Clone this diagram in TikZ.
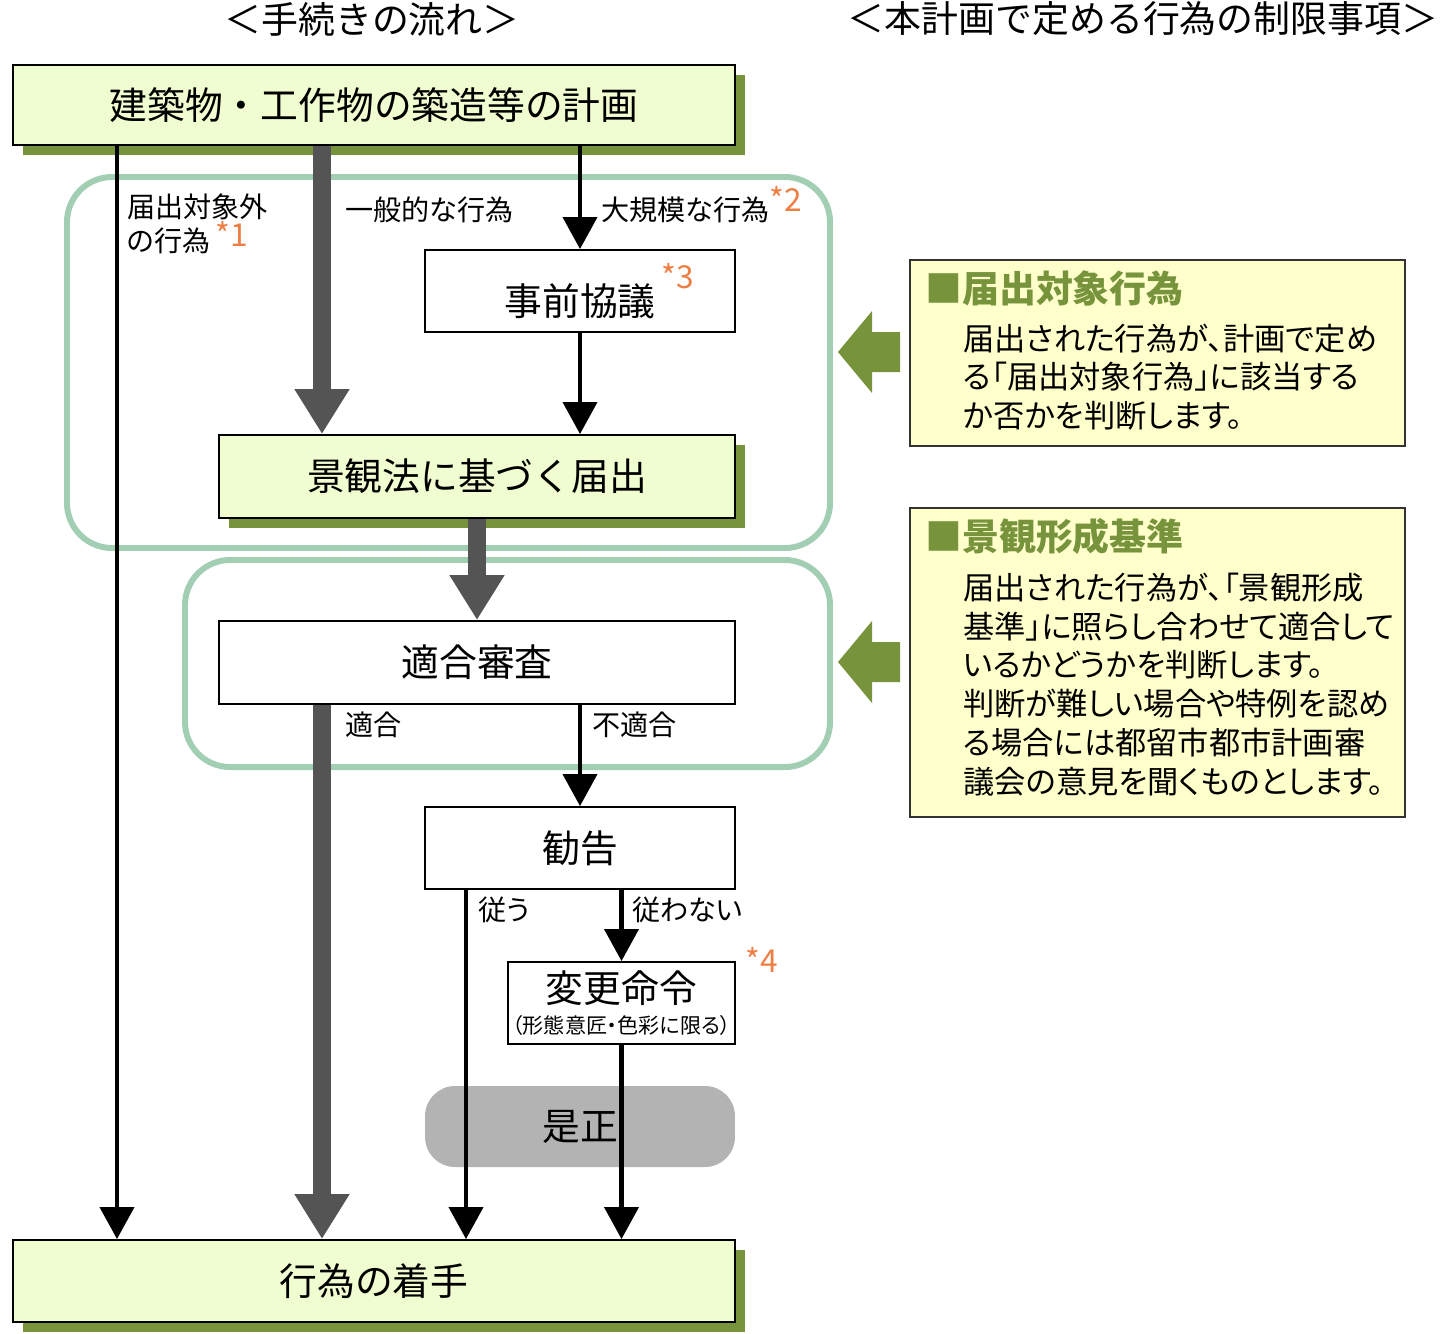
\documentclass[tikz,border=0pt]{standalone}
\usepackage{fontspec}
\setmainfont{Noto Sans CJK JP}
\newfontfamily\propfont[RawFeature=+palt]{Noto Sans CJK JP}
\usetikzlibrary{arrows.meta,shadows}
\definecolor{boxgreen}{HTML}{F0FDD0}
\definecolor{shadowgreen}{HTML}{77933C}
\definecolor{framegreen}{HTML}{A2CFB3}
\definecolor{arrowgray}{HTML}{545454}
\definecolor{fixgray}{HTML}{B3B3B3}
\definecolor{notefill}{HTML}{FFFFCC}
\definecolor{astorange}{HTML}{EE7F44}
\newcommand{\astnote}[2][4pt]{\textcolor{astorange}{\fontsize{18}{18}\selectfont\raisebox{#1}{*#2}}}

\begin{document}
\begin{tikzpicture}[x=0.02cm,y=-0.02cm,
        stepbox/.style={draw=black,line width=1.1pt,inner sep=0pt,minimum height=1.64cm,font=\fontsize{21.5}{26}\selectfont},
        greenbox/.style={stepbox,fill=boxgreen,general shadow={fill=shadowgreen,shadow xshift=0.2cm,shadow yshift=-0.2cm}},
        whitebox/.style={stepbox,fill=white},
        thinarrow/.style={line width=2.3pt,-{Triangle[width=0.68cm,length=0.64cm]}},
        thickarrow/.style={draw=arrowgray,line width=10.2pt,-{Triangle[width=1.04cm,length=0.9cm]}},
        lbl/.style={inner sep=0pt,anchor=base west,font=\propfont\fontsize{16}{17.6}\selectfont},
        frame/.style={draw=framegreen,line width=3.4pt,rounded corners=0.9cm},
        notebox/.style={draw=black!80,line width=1.1pt,fill=notefill,minimum width=9.9cm},
        notehead/.style={inner sep=0pt,anchor=west,text=shadowgreen,font=\fontsize{21}{24}\selectfont\bfseries},
        notebody/.style={inner sep=0pt,anchor=west,align=left,font=\propfont\fontsize{17.8}{22.1}\selectfont}]
    \useasboundingbox (0,0) rectangle (1447,1333);
    % headings
    \node (flowtitle) at (372,19) {\fontsize{21}{24}\selectfont ＜手続きの流れ＞};
    \node (ruletitle) at (1143,19) {\fontsize{21}{24}\selectfont ＜本計画で定める行為の制限事項＞};

    % frames
    \draw[frame] (67,177) rectangle (830,548);
    \draw[frame] (185,560) rectangle (830,767);
    \foreach \ya in {352,662}
        \fill[shadowgreen] (838,\ya) -- (872,\ya-41) -- (872,\ya-20) -- (900,\ya-20)
            -- (900,\ya+20) -- (872,\ya+20) -- (872,\ya+41) -- cycle;

    % steps
    \node[greenbox,minimum width=14.44cm,minimum height=1.6cm] (plan) at (374,105) {建築物・工作物の築造等の計画};
    \node[whitebox,minimum width=6.2cm] (prior) at (580,291) {事前協議\rlap{\,\astnote[15pt]{3}}};
    \node[greenbox,minimum width=10.32cm,minimum height=1.66cm] (notify) at (477,476.5) {景観法に基づく届出};
    \node[whitebox,minimum width=10.32cm,minimum height=1.66cm] (review) at (477,662.5) {適合審査};
    \node[whitebox,minimum width=6.2cm] (advice) at (580,848) {勧告};
    \node[whitebox,minimum width=4.54cm,align=center] (order) at (621.5,1003)
        {変更命令\\[-8pt]{\propfont\fontsize{12}{13}\selectfont （形態意匠・色彩に限る）}};
    \node[stepbox,draw=none,fill=fixgray,rounded corners=0.6cm,minimum width=6.2cm,minimum height=1.62cm] (fix) at (580,1126.5) {是正};
    \node[greenbox,minimum width=14.44cm] (start) at (374,1281) {行為の着手};

    % notes
    \node[notebox,minimum height=3.72cm] (note1) at (1157.5,353) {};
    \node[notehead] (head1) at (925,288) {■届出対象行為};
    \node[notebody] (body1) at (963,377) {届出された行為が、計画で定め\\る「届出対象行為」に該当する\\か否かを判断します。};
    \node[notebox,minimum height=6.18cm] (note2) at (1157.5,662.5) {};
    \node[notehead] (head2) at (925,536) {■景観形成基準};
    \node[notebody] (body2) at (963,684.5) {届出された行為が、「景観形成\\基準」に照らし合わせて適合して\\いるかどうかを判断します。\\判断が難しい場合や特例を認め\\る場合には都留市都市計画審\\議会の意見を聞くものとします。};

    % connectors
    \coordinate (xout) at (117,0);
    \coordinate (xgen) at (322,0);
    \coordinate (xobey) at (466,0);
    \draw[thinarrow] (xout |- plan.south) -- (xout |- start.north);
    \draw[thickarrow] (xgen |- plan.south) -- (xgen |- notify.north);
    \draw[thinarrow] (prior.north |- plan.south) -- (prior.north);
    \draw[thinarrow] (prior.south) -- (prior.south |- notify.north);
    \draw[thickarrow] (notify.south) -- (review.north);
    \draw[thickarrow] (xgen |- review.south) -- (xgen |- start.north);
    \draw[thinarrow] (advice.north |- review.south) -- (advice.north);
    \draw[thinarrow] (xobey |- advice.south) -- (xobey |- start.north);
    \draw[thinarrow] (order.north |- advice.south) -- (order.north);
    \draw[thinarrow] (order.south) -- (order.south |- start.north);

    % labels
    \node[lbl,anchor=north west,align=left] (outlbl) at (127,193) {届出対象外\\の行為\,\astnote[3pt]{1}};
    \node[lbl] (genlbl) at (345,220) {一般的な行為};
    \node[lbl] (biglbl) at (601,220) {大規模な行為\astnote[5pt]{2}};
    \node[lbl] (oklbl) at (345,735) {適合};
    \node[lbl] (nglbl) at (592,735) {不適合};
    \node[lbl] (obeylbl) at (478,920) {従う};
    \node[lbl] (refuselbl) at (632,920) {従わない};
    \node[lbl] (ordernote) at (745,972) {\astnote[0pt]{4}};
\end{tikzpicture}
\end{document}
